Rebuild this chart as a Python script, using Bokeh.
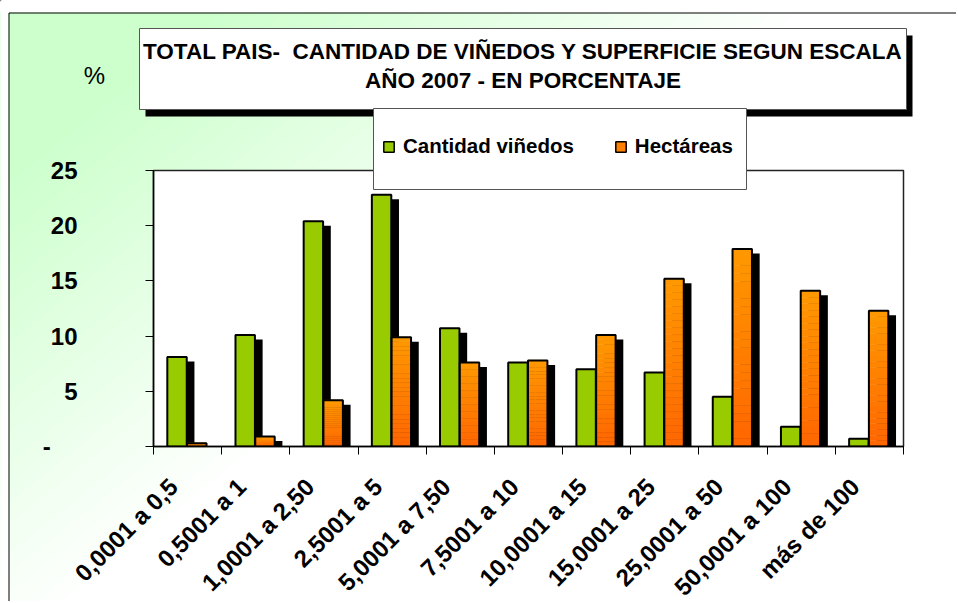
import math
from bokeh.plotting import figure
from bokeh.models import (Range1d, FixedTicker, Label, Legend, LegendItem, GridBox)
from bokeh.embed import file_html
from bokeh.resources import INLINE

# ---------------- data ----------------
categories = ["0,0001 a 0,5", "0,5001 a 1", "1,0001 a 2,50", "2,5001 a 5",
              "5,0001 a 7,50", "7,5001 a 10", "10,0001 a 15", "15,0001 a 25",
              "25,0001 a 50", "50,0001 a 100", "más de 100"]
vinedos = [8.1, 10.1, 20.4, 22.8, 10.7, 7.6, 7.0, 6.7, 4.5, 1.8, 0.7]
hectareas = [0.3, 0.9, 4.2, 9.9, 7.6, 7.8, 10.1, 15.2, 17.9, 14.1, 12.3]
y_ticks = [0, 5, 10, 15, 20, 25]
series_names = ["Cantidad viñedos", "Hectáreas"]
title_lines = ["TOTAL PAIS-\u00a0 CANTIDAD DE VIÑEDOS Y SUPERFICIE SEGUN ESCALA",
               "AÑO 2007 - EN PORCENTAJE"]
y_unit = "%"

# ---------------- style / layout ----------------
FONT = "Liberation Sans"
GREEN = "#99CC00"
OR_TOP = (255, 153, 0)
OR_BOT = (255, 102, 0)
OR_MID = "#FF8000"
NBSP = "\u00a0"

n = len(categories)
YMAX = 25
W, H = 956, 601
FW, FH = 750, 276
ML, MT = 153, 170
MR, MB = W - ML - FW, H - MT - FH

# ======== background figure (pixel coordinates, y downward) ========
bg = figure(width=W, height=H, x_range=Range1d(0, W), y_range=Range1d(H, 0),
            min_border=0, x_axis_location=None, y_axis_location=None,
            output_backend="svg", toolbar_location=None, tools="")
bg.frame_align = False
bg.grid.visible = False
bg.outline_line_color = None
bg.border_fill_color = "white"
bg.background_fill_color = "white"


def grad_color(w):
    c = int(round(204 + 51 * w))
    return "#%02x%02x%02x" % (c, 255, c)


def band(s0, s1, pt=12.5, pb=H + 50):
    xs = [750 * (s0 - pt / 600), 750 * (s1 - pt / 600),
          750 * (s1 - pb / 600), 750 * (s0 - pb / 600)]
    return xs, [pt, pt, pb, pb]


# diagonal gradient: light green (top-left) -> white (bottom-right)
bxs, bys, bcs = [], [], []
xs_, ys_ = band(-2.0, 0.3)
bxs.append(xs_); bys.append(ys_); bcs.append(grad_color(0))
S0, S1, NB = 0.3, 1.1, 48
for k in range(NB):
    s0 = S0 + (S1 - S0) * k / NB
    s1 = S0 + (S1 - S0) * (k + 1) / NB
    xs_, ys_ = band(s0, s1)
    bxs.append(xs_); bys.append(ys_); bcs.append(grad_color((k + 0.5) / NB))
bg.patches(xs=bxs, ys=bys, fill_color=bcs, line_color=bcs, line_width=1)
bg.quad(left=0, right=8, top=0, bottom=H, fill_color="white", line_color=None)
# chart border (left + top edges visible)
bg.line(x=[8.5, 8.5, W + 5], y=[H + 5, 12.5, 12.5], line_color="black", line_width=1)

# plot area
bg.quad(left=ML, right=ML + FW, top=MT, bottom=MT + FH, fill_color="white",
        line_color="#222222", line_width=1.5)

# title box with shadow
bg.quad(left=145, right=912, top=35, bottom=116, fill_color="black", line_color=None)
bg.quad(left=139, right=906, top=28, bottom=109, fill_color="white",
        line_color="#555555", line_width=1)
for txt, cy in zip(title_lines, [51, 80]):
    bg.add_layout(Label(x=522.5, y=cy, text=txt, text_align="center",
                        text_baseline="middle", text_font=FONT, text_font_style="bold",
                        text_font_size="22.5px", text_color="black"))

bg.add_layout(Label(x=94, y=75, text=y_unit, text_align="center",
                    text_baseline="middle", text_font=FONT, text_font_size="24px",
                    text_color="black"))

# legend box
bg.quad(left=373, right=746, top=108, bottom=189, fill_color="white",
        line_color="#555555", line_width=1)
# legend-only glyph renderers mirroring the bar styles (placed off-canvas)
lg_green = bg.vbar(x=[-100], top=[-100], bottom=[-110], width=1, fill_color=GREEN,
                   line_color="black", line_width=1.5)
lg_orange = bg.vbar(x=[-100], top=[-100], bottom=[-110], width=1, fill_color=OR_MID,
                    line_color="black", line_width=1.5)
legend = Legend(items=[LegendItem(label=series_names[0], renderers=[lg_green]),
                       LegendItem(label=series_names[1], renderers=[lg_orange])],
                orientation="horizontal", location=(382, H - 158),
                margin=0, padding=0, spacing=40, label_standoff=8,
                glyph_width=13, glyph_height=13,
                label_text_font=FONT, label_text_font_style="bold",
                label_text_font_size="20.5px", label_text_color="black",
                border_line_color=None, background_fill_alpha=0)
bg.add_layout(legend)

# ======== main chart figure (transparent, on top) ========
p = figure(frame_width=FW, frame_height=FH,
           min_border_left=ML, min_border_right=MR,
           min_border_top=MT, min_border_bottom=MB,
           x_range=Range1d(0, n), y_range=Range1d(0, YMAX),
           output_backend="svg", toolbar_location=None, tools="")
p.frame_align = False
p.border_fill_color = None
p.background_fill_color = None
p.outline_line_color = None
p.xgrid.grid_line_color = None
p.ygrid.grid_line_color = None

bw = 0.285
gx = [i + 0.345 for i in range(n)]
ox = [i + 0.635 for i in range(n)]
sh_x = 7.7 * n / FW
sh_y = 4.5 * YMAX / FH

p.vbar(x=[x + sh_x for x in gx], top=[max(v - sh_y, 0) for v in vinedos], bottom=0,
       width=bw, fill_color="black", line_color=None)
p.vbar(x=[x + sh_x for x in ox], top=[max(v - sh_y, 0) for v in hectareas], bottom=0,
       width=bw, fill_color="black", line_color=None)

p.vbar(x=gx, top=vinedos, bottom=0, width=bw, fill_color=GREEN,
       line_color="black", line_width=2)

NS = 24
sx, sb, st, sc = [], [], [], []
for j in range(NS):
    f = (j + 0.5) / NS
    col = "#%02x%02x%02x" % tuple(int(round(OR_BOT[c] + (OR_TOP[c] - OR_BOT[c]) * f))
                                  for c in range(3))
    for i in range(n):
        v = hectareas[i]
        sx.append(ox[i])
        sb.append(v * j / NS)
        st.append(v * (j + 1) / NS)
        sc.append(col)
p.vbar(x=sx, bottom=sb, top=st, width=bw, fill_color=sc, line_color=sc, line_width=0.5)
p.vbar(x=ox, top=hectareas, bottom=0, width=bw, fill_color=None,
       line_color="black", line_width=2)

# axes
p.xaxis.ticker = FixedTicker(ticks=[i + 0.5 for i in range(n)],
                             minor_ticks=list(range(n + 1)))
p.xaxis.major_label_overrides = {i + 0.5: categories[i] + NBSP * 3 for i in range(n)}
p.xaxis.major_label_orientation = math.pi / 4
p.xaxis.major_tick_line_color = None
p.xaxis.major_tick_out = 8
p.xaxis.major_tick_in = 0
p.xaxis.minor_tick_line_color = "black"
p.xaxis.minor_tick_out = 8
p.xaxis.minor_tick_in = 0
p.xaxis.axis_line_color = "black"
p.xaxis.axis_line_width = 1.5
p.xaxis.major_label_standoff = 14
p.xaxis.major_label_text_font = FONT
p.xaxis.major_label_text_font_style = "bold"
p.xaxis.major_label_text_font_size = "24px"
p.xaxis.major_label_text_color = "black"

p.yaxis.ticker = FixedTicker(ticks=y_ticks, minor_ticks=[])
p.yaxis.major_label_overrides = {0: "-" + NBSP * 4}
p.yaxis.major_tick_out = 8
p.yaxis.major_tick_in = 0
p.yaxis.major_tick_line_color = "black"
p.yaxis.minor_tick_line_color = None
p.yaxis.axis_line_color = "black"
p.yaxis.axis_line_width = 1.5
p.yaxis.major_label_standoff = 68
p.yaxis.major_label_text_font = FONT
p.yaxis.major_label_text_font_style = "bold"
p.yaxis.major_label_text_font_size = "24px"
p.yaxis.major_label_text_color = "black"

layout = GridBox(children=[(bg, 0, 0), (p, 0, 0)])

open("out.html", "w").write(file_html(layout, INLINE))
